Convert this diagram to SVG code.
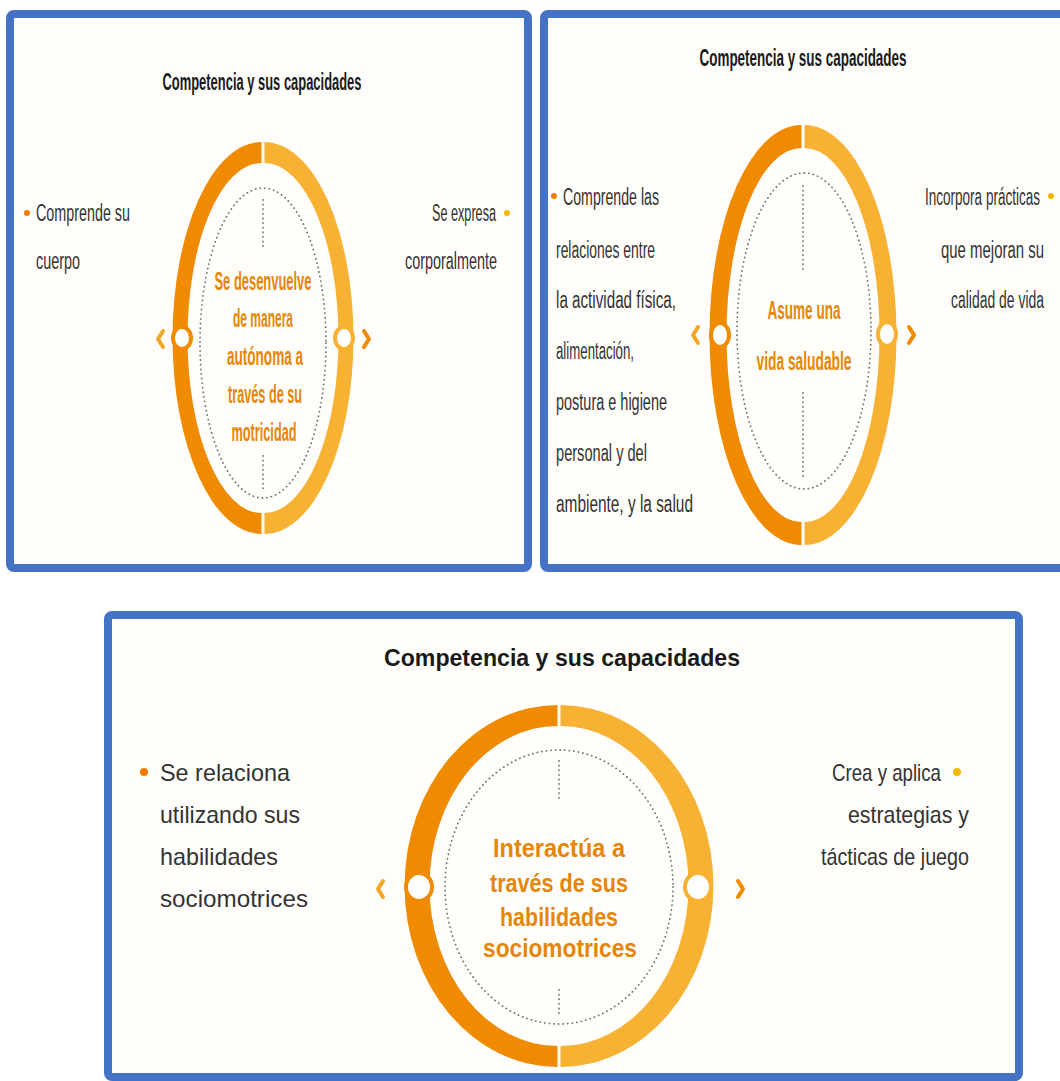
<svg xmlns="http://www.w3.org/2000/svg" width="1060" height="1081" viewBox="0 0 1060 1081">
<style>
.frame{fill:#fffefb;stroke:#4472c4;stroke-width:8}
.ttl{font-family:"Liberation Sans",Arial,sans-serif;font-weight:bold;fill:#1a1a1a}
.lbl{font-family:"Liberation Sans",Arial,sans-serif;fill:#333}
.ctr{font-family:"Liberation Sans",Arial,sans-serif;font-weight:bold;fill:#e5860a;text-anchor:middle}
.ringL{fill:#f08a00}
.ringR{fill:#f7b233}
.dots{fill:none;stroke:#707070;stroke-width:1.8;stroke-dasharray:0.1 4.5;stroke-linecap:round}
.mkL{fill:#fff;stroke:#f08a00;stroke-width:4}
.mkR{fill:#fff;stroke:#f7b233;stroke-width:4}
.chevL{fill:none;stroke:#f5a623;stroke-width:4;stroke-linecap:round;stroke-linejoin:round}
.chevR{fill:none;stroke:#f08a00;stroke-width:4;stroke-linecap:round;stroke-linejoin:round}
.bL{fill:#ee7d00}
.bR{fill:#f5b800}
</style>
<g id="panel-top-left">
<rect class="frame" x="10" y="14" width="518" height="554" rx="4"/>
<text class="ttl" x="262" y="90" font-size="23" text-anchor="middle" textLength="199" lengthAdjust="spacingAndGlyphs">Competencia y sus capacidades</text>
<path class="ringL" d="M261.5,142 A89,196 0 0 0 261.5,534 L261.5,513 A74,175 0 0 1 261.5,163 Z"/>
<path class="ringR" d="M264.5,142 A89,196 0 0 1 264.5,534 L264.5,513 A74,175 0 0 0 264.5,163 Z"/>
<ellipse class="dots" cx="263" cy="343" rx="63" ry="155"/>
<line class="dots" x1="263" y1="200" x2="263" y2="248"/>
<line class="dots" x1="263" y1="456" x2="263" y2="490"/>
<ellipse class="mkL" cx="182" cy="338" rx="9" ry="11"/>
<ellipse class="mkR" cx="344" cy="338" rx="9" ry="11"/>
<polyline class="chevL" points="163,331 158,339 163,347"/>
<polyline class="chevR" points="364,331 369,339 364,347"/>
<text class="ctr" font-size="25"><tspan x="263" y="290" textLength="97" lengthAdjust="spacingAndGlyphs">Se desenvuelve</tspan><tspan x="263" y="327" textLength="60" lengthAdjust="spacingAndGlyphs">de manera</tspan><tspan x="265" y="365" textLength="76" lengthAdjust="spacingAndGlyphs">autónoma a</tspan><tspan x="265" y="403" textLength="74" lengthAdjust="spacingAndGlyphs">través de su</tspan><tspan x="264" y="441" textLength="65" lengthAdjust="spacingAndGlyphs">motricidad</tspan></text>
<circle class="bL" cx="27" cy="213" r="3"/>
<text class="lbl" font-size="23" x="36" y="221" textLength="94" lengthAdjust="spacingAndGlyphs">Comprende su</text>
<text class="lbl" font-size="23" x="36" y="269" textLength="44" lengthAdjust="spacingAndGlyphs">cuerpo</text>
<circle class="bR" cx="507" cy="213" r="3"/>
<text class="lbl" font-size="23" x="496" y="221" text-anchor="end" textLength="64" lengthAdjust="spacingAndGlyphs">Se expresa</text>
<text class="lbl" font-size="23" x="497" y="269" text-anchor="end" textLength="92" lengthAdjust="spacingAndGlyphs">corporalmente</text>
</g>
<g id="panel-top-right">
<rect class="frame" x="544" y="14" width="522" height="554" rx="4"/>
<text class="ttl" x="803" y="66" font-size="23" text-anchor="middle" textLength="207" lengthAdjust="spacingAndGlyphs">Competencia y sus capacidades</text>
<path class="ringL" d="M801.5,125 A92,210 0 0 0 801.5,545 L801.5,522 A75,187 0 0 1 801.5,148 Z"/>
<path class="ringR" d="M804.5,125 A92,210 0 0 1 804.5,545 L804.5,522 A75,187 0 0 0 804.5,148 Z"/>
<ellipse class="dots" cx="804" cy="331" rx="67" ry="158"/>
<line class="dots" x1="803" y1="186" x2="803" y2="273"/>
<line class="dots" x1="803" y1="393" x2="803" y2="480"/>
<ellipse class="mkL" cx="720" cy="335" rx="9" ry="12"/>
<ellipse class="mkR" cx="887" cy="334" rx="9" ry="12"/>
<polyline class="chevL" points="698,327 693,335 698,343"/>
<polyline class="chevR" points="909,327 914,335 909,343"/>
<text class="ctr" font-size="25"><tspan x="804" y="319" textLength="73" lengthAdjust="spacingAndGlyphs">Asume una</tspan><tspan x="804" y="370" textLength="95" lengthAdjust="spacingAndGlyphs">vida saludable</tspan></text>
<circle class="bL" cx="554" cy="196" r="3"/>
<text class="lbl" font-size="23" x="563" y="205" textLength="96" lengthAdjust="spacingAndGlyphs">Comprende las</text>
<text class="lbl" font-size="23" x="556" y="258" textLength="99" lengthAdjust="spacingAndGlyphs">relaciones entre</text>
<text class="lbl" font-size="23" x="556" y="308" textLength="120" lengthAdjust="spacingAndGlyphs">la actividad física,</text>
<text class="lbl" font-size="23" x="556" y="359" textLength="78" lengthAdjust="spacingAndGlyphs">alimentación,</text>
<text class="lbl" font-size="23" x="556" y="410" textLength="111" lengthAdjust="spacingAndGlyphs">postura e higiene</text>
<text class="lbl" font-size="23" x="556" y="461" textLength="91" lengthAdjust="spacingAndGlyphs">personal y del</text>
<text class="lbl" font-size="23" x="556" y="512" textLength="137" lengthAdjust="spacingAndGlyphs">ambiente, y la salud</text>
<circle class="bR" cx="1051" cy="196" r="3"/>
<text class="lbl" font-size="23" x="1040" y="205" text-anchor="end" textLength="115" lengthAdjust="spacingAndGlyphs">Incorpora prácticas</text>
<text class="lbl" font-size="23" x="1044" y="258" text-anchor="end" textLength="103" lengthAdjust="spacingAndGlyphs">que mejoran su</text>
<text class="lbl" font-size="23" x="1044" y="308" text-anchor="end" textLength="93" lengthAdjust="spacingAndGlyphs">calidad de vida</text>
</g>
<g id="panel-bottom">
<rect class="frame" x="108" y="615" width="911" height="462" rx="4"/>
<text class="ttl" x="562" y="666" font-size="24" text-anchor="middle" textLength="356" lengthAdjust="spacingAndGlyphs">Competencia y sus capacidades</text>
<path class="ringL" d="M557.5,705 A153,181 0 0 0 557.5,1067 L557.5,1046 A128,160 0 0 1 557.5,726 Z"/>
<path class="ringR" d="M560.5,705 A153,181 0 0 1 560.5,1067 L560.5,1046 A128,160 0 0 0 560.5,726 Z"/>
<ellipse class="dots" cx="559" cy="887" rx="114" ry="137"/>
<line class="dots" x1="559" y1="761" x2="559" y2="800"/>
<line class="dots" x1="559" y1="990" x2="559" y2="1017"/>
<ellipse class="mkL" cx="419" cy="887" rx="13" ry="14"/>
<ellipse class="mkR" cx="698" cy="887" rx="13" ry="14"/>
<polyline class="chevL" points="383,881 378,889 383,897"/>
<polyline class="chevR" points="738,881 743,889 738,897"/>
<text class="ctr" font-size="25"><tspan x="559" y="857" textLength="132" lengthAdjust="spacingAndGlyphs">Interactúa a</tspan><tspan x="559" y="892" textLength="138" lengthAdjust="spacingAndGlyphs">través de sus</tspan><tspan x="559" y="926" textLength="118" lengthAdjust="spacingAndGlyphs">habilidades</tspan><tspan x="560" y="957" textLength="154" lengthAdjust="spacingAndGlyphs">sociomotrices</tspan></text>
<circle class="bL" cx="144" cy="772" r="4"/>
<text class="lbl" font-size="24" x="160" y="781" textLength="130" lengthAdjust="spacingAndGlyphs">Se relaciona</text>
<text class="lbl" font-size="24" x="160" y="823" textLength="140" lengthAdjust="spacingAndGlyphs">utilizando sus</text>
<text class="lbl" font-size="24" x="160" y="865" textLength="118" lengthAdjust="spacingAndGlyphs">habilidades</text>
<text class="lbl" font-size="24" x="160" y="907" textLength="148" lengthAdjust="spacingAndGlyphs">sociomotrices</text>
<circle class="bR" cx="957" cy="772" r="4"/>
<text class="lbl" font-size="24" x="941" y="781" text-anchor="end" textLength="109" lengthAdjust="spacingAndGlyphs">Crea y aplica</text>
<text class="lbl" font-size="24" x="969" y="823" text-anchor="end" textLength="121" lengthAdjust="spacingAndGlyphs">estrategias y</text>
<text class="lbl" font-size="24" x="969" y="865" text-anchor="end" textLength="148" lengthAdjust="spacingAndGlyphs">tácticas de juego</text>
</g>
</svg>
